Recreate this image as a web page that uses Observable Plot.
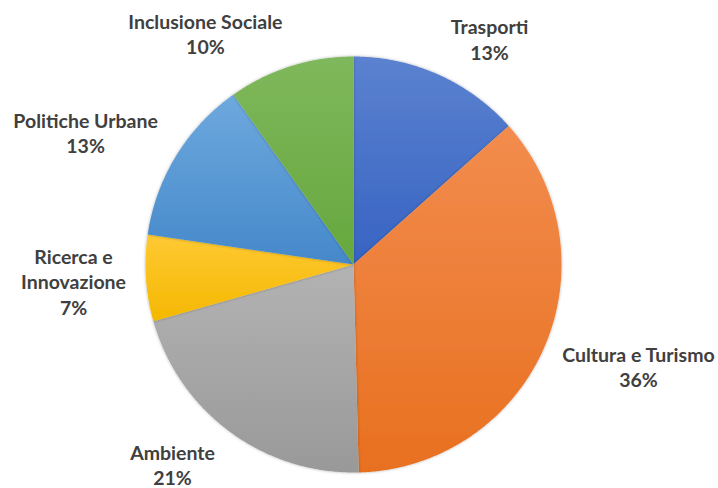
<!DOCTYPE html>
<html>
<head>
<meta charset="utf-8">
<script src="https://cdn.jsdelivr.net/npm/d3@7"></script>
<script src="https://cdn.jsdelivr.net/npm/@observablehq/plot@0.6"></script>
<style>
  html, body { margin: 0; padding: 0; background: #ffffff; }
  #chart { width: 718px; height: 488px; }
</style>
</head>
<body>
<div id="chart"></div>
<script>
// ---- data ----
const categories = ["Trasporti", "Cultura e Turismo", "Ambiente", "Ricerca e Innovazione", "Politiche Urbane", "Inclusione Sociale"];
const labelLines = ["Trasporti", "Cultura e Turismo", "Ambiente", "Ricerca e\nInnovazione", "Politiche Urbane", "Inclusione Sociale"];
const values = [13.4, 36.2, 21.0, 6.7, 12.9, 9.8];
const colorTop = ["#5b82d0", "#f28c4e", "#b3b3b3", "#ffc934", "#6ea9de", "#7fb85c"];
const colorBottom = ["#3763c2", "#e8701f", "#999999", "#f4b800", "#4588ca", "#66a73d"];
// label block centres, in pie-radius units
const labelX = [0.654, 1.370, -0.870, -1.346, -1.288, -0.712];
const labelY = [1.084, -0.490, -0.960, -0.079, 0.635, 1.111];

// ---- layout ----
const W = 718, H = 488, cx = 353, cy = 264, R = 208;

const total = d3.sum(values);
let acc = 0;
const slices = values.map((v, i) => {
  const a0 = acc / total * 2 * Math.PI;
  acc += v;
  const a1 = acc / total * 2 * Math.PI;
  const pts = [{x: 0, y: 0}];
  const n = Math.max(2, Math.ceil((a1 - a0) / (Math.PI / 360)));
  for (let k = 0; k <= n; k++) {
    const a = a0 + (a1 - a0) * k / n;
    pts.push({x: Math.sin(a), y: Math.cos(a)});
  }
  pts.push({x: 0, y: 0});
  return {i, pts};
});

const labels = categories.map((c, i) => ({
  text: labelLines[i] + "\n" + Math.round(values[i] / total * 100) + "%",
  x: labelX[i],
  y: labelY[i]
}));

const svg = Plot.plot({
  width: W,
  height: H,
  margin: 0,
  style: {background: "#ffffff", overflow: "visible"},
  x: {domain: [-1, 1], range: [cx - R, cx + R], axis: null},
  y: {domain: [-1, 1], range: [cy + R, cy - R], axis: null},
  marks: [
    ...slices.map(s => Plot.line(s.pts, {
      x: "x", y: "y",
      fill: `url(#grad${s.i})`,
      stroke: "none",
      curve: "linear"
    })),
    Plot.text(labels, {
      x: "x", y: "y", text: "text",
      fontFamily: "Lato, 'Open Sans', sans-serif",
      fontWeight: "bold",
      fontSize: 19.5,
      lineHeight: 1.31,
      fill: "#404040",
      textAnchor: "middle",
      lineAnchor: "middle"
    })
  ]
});

const sel = d3.select(svg);
const defs = sel.insert("defs", ":first-child");
colorTop.forEach((c, i) => {
  const g = defs.append("linearGradient")
    .attr("id", `grad${i}`)
    .attr("x1", 0).attr("y1", 0).attr("x2", 0).attr("y2", 1);
  g.append("stop").attr("offset", "0%").attr("stop-color", c);
  g.append("stop").attr("offset", "100%").attr("stop-color", colorBottom[i]);
});
const f = defs.append("filter").attr("id", "soft")
  .attr("x", "-10%").attr("y", "-10%").attr("width", "120%").attr("height", "120%");
f.append("feDropShadow").attr("dx", 0).attr("dy", 0)
  .attr("stdDeviation", 1.6).attr("flood-color", "#000").attr("flood-opacity", 0.3);
sel.selectAll("g[aria-label='line']").attr("filter", "url(#soft)");

document.getElementById("chart").appendChild(svg);
</script>
</body>
</html>
